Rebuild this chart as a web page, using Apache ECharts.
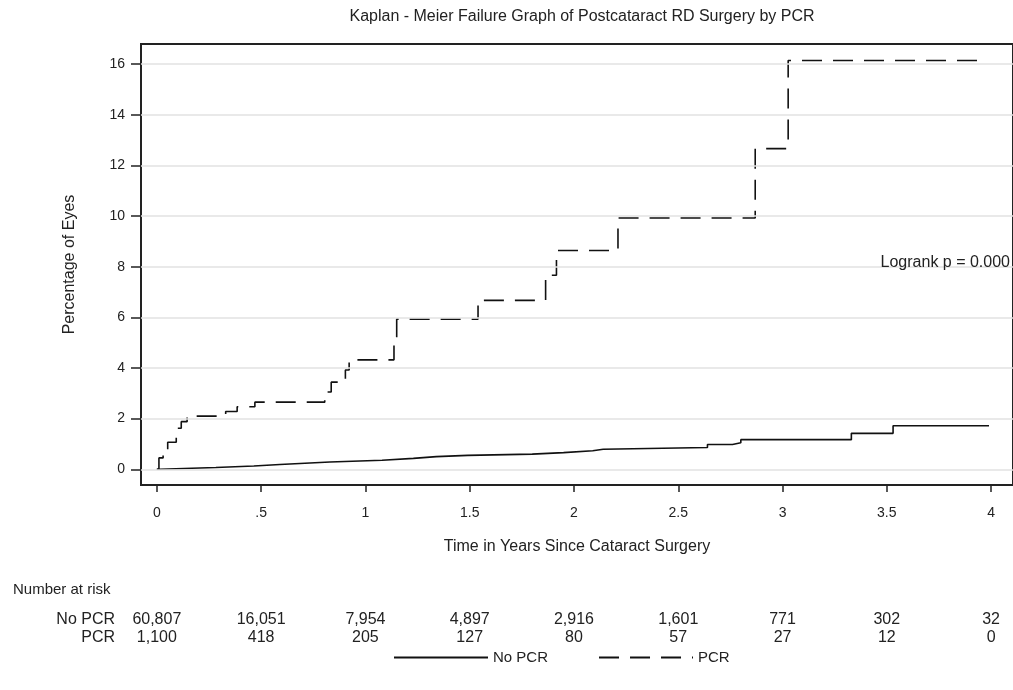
<!DOCTYPE html>
<html>
<head>
<meta charset="utf-8">
<script src="https://cdn.jsdelivr.net/npm/echarts@6/dist/echarts.min.js"></script>
<style>
html,body{margin:0;padding:0;background:#fff;}
#chart{width:1013px;height:690px;}
</style>
</head>
<body>
<div id="chart"></div>
<script>
// ---- data ----
const titleText = 'Kaplan - Meier Failure Graph of Postcataract RD Surgery by PCR';
const xTicks = [0, 0.5, 1, 1.5, 2, 2.5, 3, 3.5, 4];
const yTicks = [0, 2, 4, 6, 8, 10, 12, 14, 16];

// No PCR step curve: [time (years), failure %]
const noPcrTimes  = [0, 0.015, 0.283, 0.465, 0.59, 0.71, 0.83, 1.08, 1.23, 1.34, 1.49, 1.80, 1.95, 2.09, 2.14, 2.64, 2.76, 2.80, 3.33, 3.53, 3.99];
const noPcrValues = [0, 0.07, 0.13, 0.19, 0.24, 0.29, 0.36, 0.43, 0.50, 0.55, 0.60, 0.66, 0.73, 0.79, 0.86, 0.98, 1.05, 1.17, 1.42, 1.72, 1.72];

// PCR step curve
const pcrTimes  = [0, 0.01, 0.03, 0.052, 0.093, 0.117, 0.145, 0.33, 0.385, 0.47, 0.805, 0.836, 0.904, 0.922, 1.137, 1.15, 1.54, 1.864, 1.916, 2.211, 2.869, 3.027, 3.966];
const pcrValues = [0, 0.45, 0.80, 1.07, 1.62, 1.88, 2.10, 2.28, 2.47, 2.65, 3.05, 3.44, 3.92, 4.32, 5.00, 5.93, 6.67, 7.66, 8.64, 9.92, 12.66, 16.14, 16.14];

// Number at risk
const riskGroups = ['No PCR', 'PCR'];
const riskTimes  = [0, 0.5, 1, 1.5, 2, 2.5, 3, 3.5, 4];
const riskNoPcr  = [60807, 16051, 7954, 4897, 2916, 1601, 771, 302, 32];
const riskPcr    = [1100, 418, 205, 127, 80, 57, 27, 12, 0];

const logrankText = 'Logrank p = 0.000';

// ---- layout ----
const X_MIN = -0.076, X_MAX = 4.105;
const Y_MIN = -0.62, Y_MAX = 16.79;
const FONT = 'Liberation Sans, Arial, sans-serif';
const INK = '#222';

function fmtX(v) {
  if (v === 0) return '0';
  let s = String(v);
  if (s.startsWith('0.')) s = s.slice(1);
  return s;
}
function fmtN(n) { return n.toLocaleString('en-US'); }

const noPcrData = noPcrTimes.map((t, i) => [t, noPcrValues[i]]);
const pcrData = pcrTimes.map((t, i) => [t, pcrValues[i]]);
const riskData = [];
riskTimes.forEach((t, i) => {
  riskData.push([t, 0, riskNoPcr[i]]);
  riskData.push([t, 1, riskPcr[i]]);
});

const chart = echarts.init(document.getElementById('chart'), null, {renderer: 'canvas'});

chart.setOption({
  animation: false,
  backgroundColor: '#fff',
  textStyle: {fontFamily: FONT},
  graphic: [
    {type: 'text', x: 582, y: 17, style: {text: titleText, font: '16px ' + FONT, fill: INK, align: 'center', verticalAlign: 'middle'}},
    {type: 'text', x: 1010, y: 263, z: 10, style: {text: logrankText, font: '16px ' + FONT, fill: INK, align: 'right', verticalAlign: 'middle'}},
    {type: 'text', x: 13, y: 590, style: {text: 'Number at risk', font: '15px ' + FONT, fill: INK, align: 'left', verticalAlign: 'middle'}}
  ],
  legend: {
    data: ['No PCR', 'PCR'],
    left: 388,
    top: 645,
    itemWidth: 94,
    itemHeight: 14,
    itemGap: 50,
    itemStyle: {opacity: 0},
    textStyle: {fontFamily: FONT, fontSize: 15, color: INK}
  },
  grid: [
    {left: 141, right: -10, top: 44, bottom: 205, show: true, borderColor: INK, borderWidth: 2, backgroundColor: 'transparent'},
    {left: 141, right: -10, top: 611, height: 35, show: false}
  ],
  xAxis: [
    {
      type: 'value', gridIndex: 0, min: X_MIN, max: X_MAX,
      axisLine: {show: false, onZero: false},
      axisTick: {show: true, customValues: xTicks, length: 7, lineStyle: {color: INK, width: 1.5}},
      axisLabel: {show: true, customValues: xTicks, formatter: fmtX, margin: 21, fontSize: 14, color: INK, fontFamily: FONT},
      splitLine: {show: false},
      name: 'Time in Years Since Cataract Surgery',
      nameLocation: 'middle', nameGap: 54,
      nameTextStyle: {fontSize: 16, color: INK, fontFamily: FONT}
    },
    {
      type: 'value', gridIndex: 1, min: X_MIN, max: X_MAX, show: false
    }
  ],
  yAxis: [
    {
      type: 'value', gridIndex: 0, min: Y_MIN, max: Y_MAX,
      axisLine: {show: false, onZero: false},
      axisTick: {show: true, customValues: yTicks, length: 10, lineStyle: {color: INK, width: 1.5}},
      axisLabel: {show: true, customValues: yTicks, margin: 16, fontSize: 14, color: INK, fontFamily: FONT},
      splitLine: {show: false},
      name: 'Percentage of Eyes',
      nameLocation: 'middle', nameGap: 63, nameRotate: 90,
      nameTextStyle: {fontSize: 16, color: INK, fontFamily: FONT}
    },
    {
      type: 'category', gridIndex: 1, data: riskGroups, inverse: true,
      axisLine: {show: false}, axisTick: {show: false}, splitLine: {show: false},
      axisLabel: {interval: 0, margin: 26, fontSize: 16, color: INK, fontFamily: FONT}
    }
  ],
  series: [
    {
      name: 'grid', type: 'line', xAxisIndex: 0, yAxisIndex: 0, data: [], z: 1, silent: true,
      markLine: {
        silent: true, symbol: ['none', 'none'], animation: false,
        label: {show: false},
        lineStyle: {color: '#e2e2e2', width: 1.5, type: 'solid'},
        data: yTicks.map(v => ({yAxis: v}))
      }
    },
    {
      name: 'No PCR', type: 'line', step: 'end', xAxisIndex: 0, yAxisIndex: 0,
      data: noPcrData, showSymbol: false, symbol: 'none', z: 3,
      lineStyle: {color: '#111', width: 1.6, type: 'solid'},
      itemStyle: {color: '#111'}
    },
    {
      name: 'PCR', type: 'line', step: 'end', xAxisIndex: 0, yAxisIndex: 0,
      data: pcrData, showSymbol: false, symbol: 'none', z: 3,
      lineStyle: {color: '#111', width: 1.6, type: [20, 11]},
      itemStyle: {color: '#111'}
    },
    {
      name: 'risk', type: 'scatter', xAxisIndex: 1, yAxisIndex: 1,
      data: riskData, symbolSize: 0, silent: true,
      itemStyle: {opacity: 1, color: INK},
      label: {show: true, position: 'inside', formatter: p => fmtN(p.value[2]), fontSize: 16, color: INK, fontFamily: FONT, opacity: 1}
    }
  ]
});
</script>
</body>
</html>
